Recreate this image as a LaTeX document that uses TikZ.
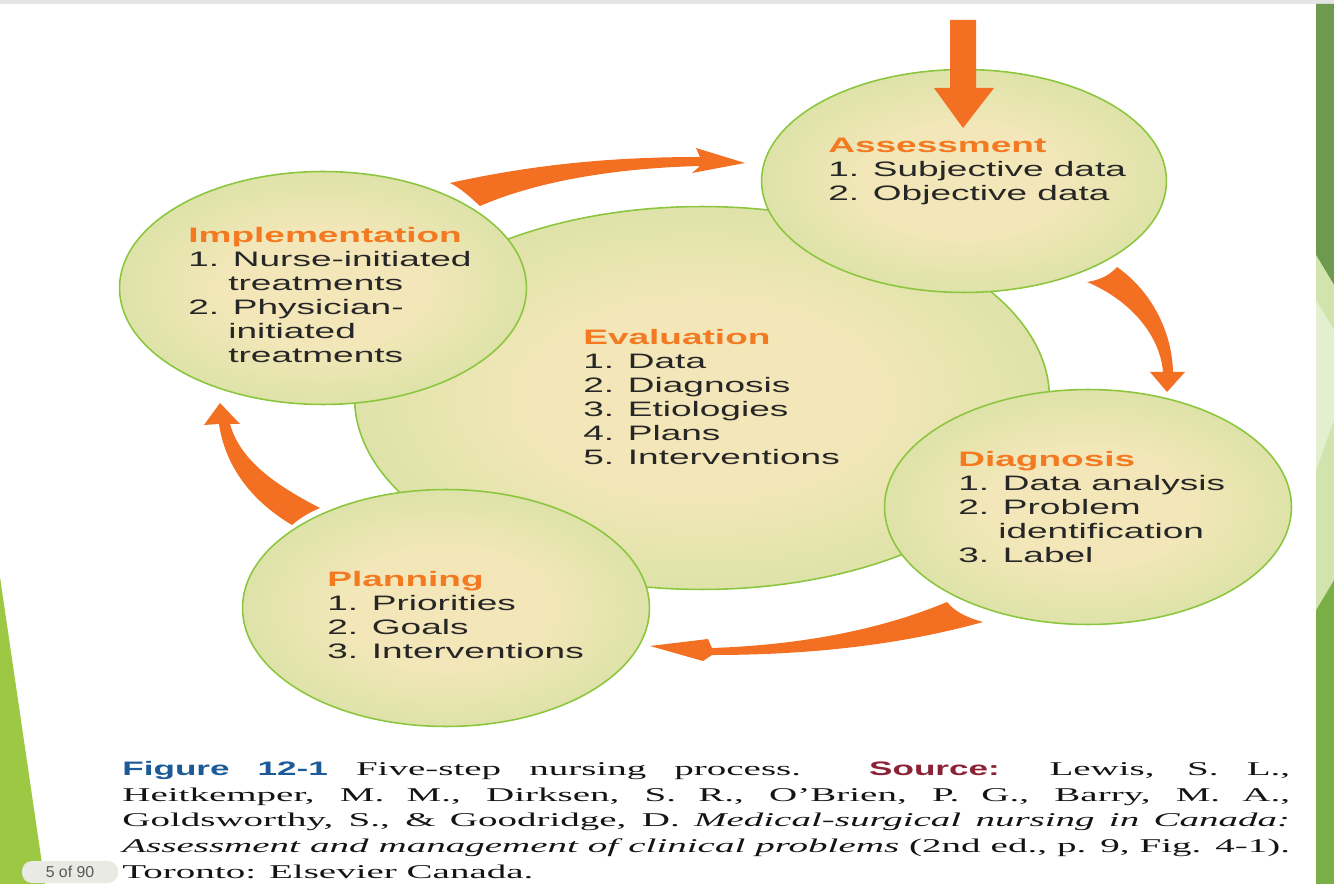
\documentclass[tikz,border=0pt]{standalone}
\usepackage{fontspec}
\setmainfont{Liberation Serif}
\newfontfamily\bubblefont[FakeStretch=1.77]{Liberation Sans}
\newfontfamily\capserif[FakeStretch=2.0]{Liberation Serif}
\newfontfamily\capsans[FakeStretch=1.8]{Liberation Sans}
\newfontfamily\badgefont{Liberation Sans}
\usetikzlibrary{shapes.geometric}

\definecolor{bubbleIn}{HTML}{F3E7B9}
\definecolor{bubbleOut}{HTML}{C6DE96}
\definecolor{bubbleRim}{HTML}{8CC63F}
\definecolor{stepOrange}{HTML}{F36F21}
\definecolor{headOrange}{HTML}{F47A22}
\definecolor{itemGray}{HTML}{262626}
\definecolor{figBlue}{HTML}{1D5B98}
\definecolor{srcRed}{HTML}{8A2336}
\definecolor{topGray}{HTML}{E4E4E4}
\definecolor{slideGreen}{HTML}{9DC843}
\definecolor{stripDark}{HTML}{6E9A50}
\definecolor{stripMid}{HTML}{7AAE47}
\definecolor{stripPale}{HTML}{D2E4AE}
\definecolor{stripLight}{HTML}{E4EFCF}
\definecolor{badgeGray}{HTML}{E8EAE3}

\pgfdeclareradialshading{bubbleshade}{\pgfpoint{0bp}{0bp}}{color(0bp)=(bubbleIn); color(12bp)=(bubbleIn); color(40bp)=(bubbleOut); color(50bp)=(bubbleOut)}

\newcommand{\stephead}[1]{\textcolor{headOrange}{\bfseries #1}}
\newcommand{\contline}{\hspace*{0.8cm}}

\tikzset{
	bubble/.style={
		ellipse,
		draw=bubbleRim,
		line width=0.9pt,
		shading=bubbleshade,
		inner sep=0pt
	},
	steptext/.style={
		anchor=north west,
		inner sep=0pt,
		align=left,
		text=itemGray,
		font=\bubblefont\fontsize{11.9}{13.66}\selectfont
	},
	turnarrow/.style={
		fill=stepOrange,
		draw=none
	},
	captext/.style={
		anchor=north west,
		inner sep=0pt,
		text width=23.36cm,
		align=justify,
		text=black!92,
		font=\capserif\fontsize{11.1}{14.6}\selectfont
	},
	pagebadge/.style={
		fill=badgeGray,
		rounded corners=0.2cm,
		minimum width=1.92cm,
		minimum height=0.44cm,
		inner sep=1pt,
		text=black!65,
		font=\badgefont\fontsize{9}{10}\selectfont
	},
}

\begin{document}
\begin{tikzpicture}[x=0.02cm, y=-0.02cm]
\useasboundingbox (0,0) rectangle (1334,884);

% slide frame
\fill[topGray] (0,0) rectangle (1334,4);
\fill[slideGreen] (0,577) -- (45,884) -- (0,884) -- cycle;
\fill[stripMid] (1316,4) rectangle (1334,884);
\fill[stripDark] (1316,4) -- (1334,4) -- (1334,285) -- (1316,255) -- cycle;
\fill[stripPale] (1316,255) -- (1334,285) -- (1334,580) -- (1316,610) -- cycle;
\fill[stripLight] (1316,300) -- (1334,330) -- (1334,420) -- (1316,470) -- cycle;
\node[pagebadge] (badge) at (70,872) {5 of 90};

% steps
\node[bubble, minimum width=13.9cm, minimum height=7.66cm] (eval) at (702,398) {};
\node[bubble, minimum width=8.1cm, minimum height=4.46cm] (assess) at (964,181) {};
\node[bubble, minimum width=8.14cm, minimum height=4.66cm] (impl) at (323,288) {};
\node[bubble, minimum width=8.14cm, minimum height=4.7cm] (diag) at (1088,507) {};
\node[bubble, minimum width=8.14cm, minimum height=4.74cm] (plan) at (446,608) {};

\node[steptext] (assessText) at (828,138) {\stephead{Assessment}\\
	1. Subjective data\\
	2. Objective data};
\node[steptext] (implText) at (188,227) {\stephead{Implementation}\\
	1. Nurse-initiated\\
	\contline treatments\\
	2. Physician-\\
	\contline initiated\\
	\contline treatments};
\node[steptext] (evalText) at (583,329) {\stephead{Evaluation}\\
	1. Data\\
	2. Diagnosis\\
	3. Etiologies\\
	4. Plans\\
	5. Interventions};
\node[steptext] (diagText) at (958,451) {\stephead{Diagnosis}\\
	1. Data analysis\\
	2. Problem\\
	\contline identification\\
	3. Label};
\node[steptext] (planText) at (327,571) {\stephead{Planning}\\
	1. Priorities\\
	2. Goals\\
	3. Interventions};

% arrows
\fill[turnarrow] (950,20) -- (976,20) -- (976,88) -- (994,88) -- (963,128) -- (934,88) -- (950,88) -- cycle;
\fill[turnarrow] (450,183) .. controls (540,163) and (620,157) .. (700,157)
	-- (696,148) -- (745,163) -- (692,173) -- (700,166)
	.. controls (620,168) and (540,180) .. (480,206)
	.. controls (468,195) and (460,188) .. (450,183) -- cycle;
\fill[turnarrow] (1117,267) .. controls (1150,290) and (1172,330) .. (1173,372)
	-- (1185,372) -- (1167,392) -- (1150,372) -- (1163,372)
	.. controls (1160,335) and (1130,300) .. (1087,282)
	.. controls (1100,280) and (1110,275) .. (1117,267) -- cycle;
\fill[turnarrow] (947,602) .. controls (880,630) and (800,645) .. (712,648)
	-- (708,639) -- (650,646) -- (703,661) -- (712,655)
	.. controls (810,655) and (900,645) .. (983,622)
	.. controls (968,618) and (955,612) .. (947,602) -- cycle;
\fill[turnarrow] (219,424) -- (204,425) -- (220,403) -- (240,424) -- (230,424)
	.. controls (240,460) and (275,485) .. (320,508)
	.. controls (310,512) and (300,518) .. (292,525)
	.. controls (250,500) and (225,465) .. (219,424) -- cycle;

% caption
\node[captext] (caption) at (122,761) {{\capsans\bfseries\color{figBlue}Figure 12-1} Five-step nursing process. {\capsans\bfseries\color{srcRed}Source:} Lewis, S. L.,\linebreak
Heitkemper, M. M., Dirksen, S. R., O’Brien, P. G., Barry, M. A.,\linebreak
Goldsworthy, S., \& Goodridge, D. \textit{Medical-surgical nursing in Canada:}\linebreak
\textit{Assessment and management of clinical problems} (2nd ed., p. 9, Fig. 4-1).\linebreak
Toronto: Elsevier Canada.};

\end{tikzpicture}
\end{document}
